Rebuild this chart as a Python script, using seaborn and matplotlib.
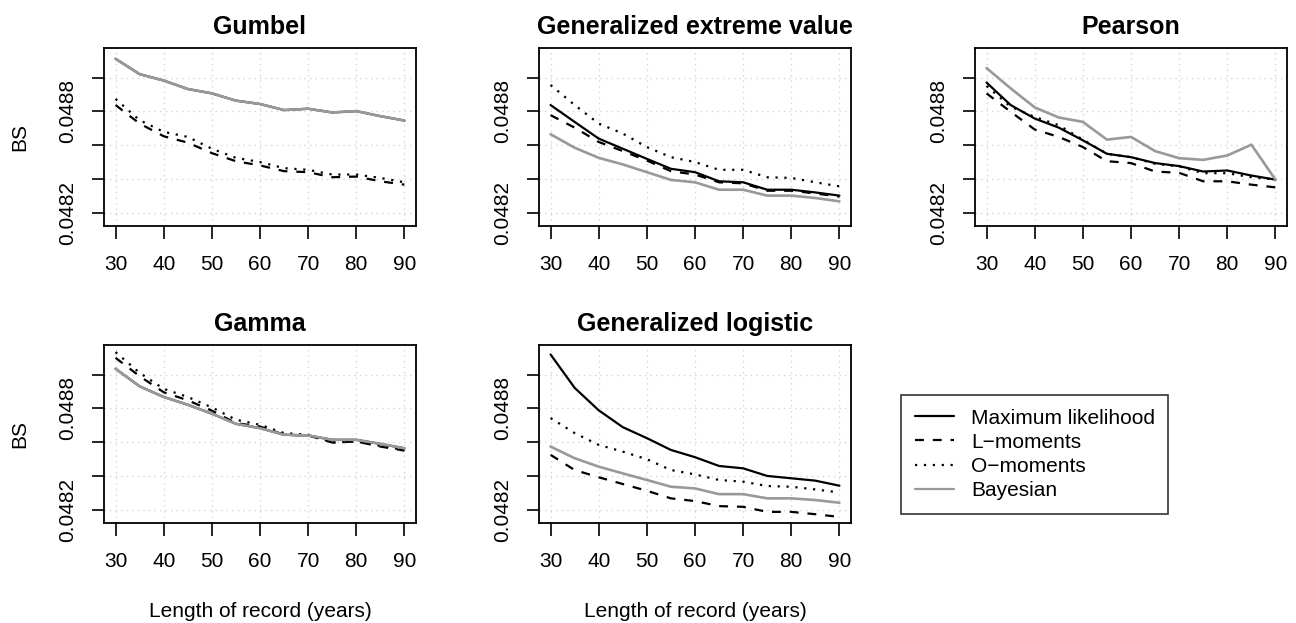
import pandas as pd
import seaborn as sns
import matplotlib.pyplot as plt
from matplotlib.lines import Line2D

# record lengths (years)
years = [30, 35, 40, 45, 50, 55, 60, 65, 70, 75, 80, 85, 90]

methods = ["Maximum likelihood", "L\u2212moments", "O\u2212moments", "Bayesian"]

# BS values, one list per distribution and method
# (for Gumbel and Gamma the ML curve sits under the grey Bayesian one)
gumbel_ml = [0.049111, 0.049020, 0.048982, 0.048932, 0.048906, 0.048863, 0.048843,
             0.048807, 0.048815, 0.048793, 0.048801, 0.048771, 0.048745]
gumbel_lm = [0.048837, 0.048727, 0.048652, 0.048614, 0.048552, 0.048504, 0.048479,
             0.048445, 0.048439, 0.048409, 0.048413, 0.048385, 0.048365]
gumbel_om = [0.048873, 0.048747, 0.048678, 0.048648, 0.048578, 0.048524, 0.048499,
             0.048463, 0.048453, 0.048425, 0.048425, 0.048405, 0.048379]
gumbel_bay = [0.049111, 0.049020, 0.048982, 0.048932, 0.048906, 0.048863, 0.048843,
              0.048807, 0.048815, 0.048793, 0.048801, 0.048771, 0.048745]

gev_ml = [0.048837, 0.048737, 0.048638, 0.048578, 0.048518, 0.048459, 0.048439,
          0.048385, 0.048379, 0.048335, 0.048335, 0.048319, 0.048300]
gev_lm = [0.048777, 0.048703, 0.048618, 0.048564, 0.048508, 0.048445, 0.048425,
          0.048379, 0.048373, 0.048329, 0.048329, 0.048313, 0.048294]
gev_om = [0.048956, 0.048837, 0.048727, 0.048668, 0.048588, 0.048528, 0.048499,
          0.048453, 0.048453, 0.048409, 0.048405, 0.048379, 0.048355]
gev_bay = [0.048664, 0.048584, 0.048524, 0.048485, 0.048439, 0.048393, 0.048379,
           0.048335, 0.048335, 0.048300, 0.048300, 0.048286, 0.048266]

pearson_ml = [0.048970, 0.048837, 0.048757, 0.048703, 0.048628, 0.048548, 0.048528,
              0.048493, 0.048475, 0.048443, 0.048449, 0.048419, 0.048395]
pearson_lm = [0.048906, 0.048797, 0.048692, 0.048648, 0.048588, 0.048504, 0.048493,
              0.048443, 0.048435, 0.048385, 0.048385, 0.048365, 0.048349]
pearson_om = [0.048950, 0.048827, 0.048767, 0.048717, 0.048632, 0.048548, 0.048528,
              0.048489, 0.048473, 0.048433, 0.048433, 0.048409, 0.048395]
pearson_bay = [0.049056, 0.048936, 0.048823, 0.048763, 0.048737, 0.048632, 0.048648,
               0.048564, 0.048522, 0.048512, 0.048538, 0.048602, 0.048395]

gamma_ml = [0.049034, 0.048930, 0.048867, 0.048821, 0.048768, 0.048708, 0.048682,
            0.048643, 0.048639, 0.048613, 0.048613, 0.048589, 0.048563]
gamma_lm = [0.049099, 0.048990, 0.048895, 0.048847, 0.048786, 0.048712, 0.048692,
            0.048643, 0.048639, 0.048597, 0.048603, 0.048573, 0.048549]
gamma_om = [0.049133, 0.049010, 0.048915, 0.048867, 0.048805, 0.048732, 0.048702,
            0.048653, 0.048643, 0.048597, 0.048603, 0.048577, 0.048553]
gamma_bay = [0.049034, 0.048930, 0.048867, 0.048821, 0.048768, 0.048708, 0.048682,
             0.048643, 0.048639, 0.048613, 0.048613, 0.048589, 0.048563]

glo_ml = [0.049119, 0.048921, 0.048788, 0.048688, 0.048623, 0.048553, 0.048510,
          0.048458, 0.048444, 0.048399, 0.048385, 0.048371, 0.048341]
glo_lm = [0.048524, 0.048434, 0.048391, 0.048351, 0.048311, 0.048266, 0.048250,
          0.048220, 0.048216, 0.048186, 0.048186, 0.048172, 0.048156]
glo_om = [0.048742, 0.048653, 0.048583, 0.048543, 0.048498, 0.048434, 0.048408,
          0.048375, 0.048365, 0.048339, 0.048335, 0.048319, 0.048301]
glo_bay = [0.048573, 0.048504, 0.048454, 0.048414, 0.048375, 0.048335, 0.048325,
           0.048291, 0.048291, 0.048266, 0.048266, 0.048256, 0.048240]

panels = [
    ("Gumbel", [gumbel_ml, gumbel_lm, gumbel_om, gumbel_bay]),
    ("Generalized extreme value", [gev_ml, gev_lm, gev_om, gev_bay]),
    ("Pearson", [pearson_ml, pearson_lm, pearson_om, pearson_bay]),
    ("Gamma", [gamma_ml, gamma_lm, gamma_om, gamma_bay]),
    ("Generalized logistic", [glo_ml, glo_lm, glo_om, glo_bay]),
]

x_ticks = [30, 40, 50, 60, 70, 80, 90]
y_ticks = [0.0482, 0.0484, 0.0486, 0.0488, 0.0490]
y_tick_labels = ["0.0482", "", "", "0.0488", ""]

palette = dict(zip(methods, ["black", "black", "black", "#999999"]))
dash_map = dict(zip(methods, ["", (4, 4), (1, 3), ""]))
# grey drawn last and a touch wider so it fully hides a coincident black curve
width_map = dict(zip(methods, [1.6, 1.6, 1.6, 1.9]))

sns.set_theme(style="white")
plt.rcParams["font.family"] = ["Liberation Sans", "DejaVu Sans"]
plt.rcParams["text.color"] = "black"
plt.rcParams["axes.labelcolor"] = "black"
plt.rcParams["axes.titlecolor"] = "black"

W, H = 1296, 623
fig = plt.figure(figsize=(W / 100, H / 100), dpi=100)

# axes boxes in pixels: left, top, right, bottom
boxes = [(104, 48, 416, 226), (539, 48, 851, 226), (975, 48, 1287, 226),
         (104, 345, 416, 523), (539, 345, 851, 523)]

for i, ((title, series), (l, t, r, b)) in enumerate(zip(panels, boxes)):
    ax = fig.add_axes([l / W, 1 - b / H, (r - l) / W, (b - t) / H])
    df = pd.DataFrame({
        "years": years * len(methods),
        "BS": [v for s in series for v in s],
        "method": [m for m in methods for _ in years],
    })
    sns.lineplot(data=df, x="years", y="BS", hue="method", style="method",
                 size="method", sizes=width_map,
                 palette=palette, dashes=dash_map,
                 legend=False, ax=ax)
    ax.set_xlim(27.6, 92.4)
    ax.set_ylim(0.04812, 0.049175)
    ax.set_xticks(x_ticks)
    ax.set_yticks(y_ticks)
    ax.set_yticklabels(y_tick_labels, rotation=90, va="center")
    ax.grid(True, color="lightgray", linestyle=(0, (1, 3)), linewidth=1.0)
    ax.tick_params(axis="both", direction="out", length=9, width=1.2,
                   labelsize=15, color="black", labelcolor="black",
                   bottom=True, left=True)
    ax.tick_params(axis="x", pad=12)
    ax.tick_params(axis="y", pad=10)
    for sp in ax.spines.values():
        sp.set_visible(True)
        sp.set_color("black")
        sp.set_linewidth(1.3)
    ax.set_title(title, fontsize=18, fontweight="bold", pad=10, color="black")
    ax.set_xlabel("Length of record (years)" if i >= 3 else "",
                  fontsize=15, labelpad=22)
    ax.set_ylabel("BS" if i in (0, 3) else "", fontsize=15, labelpad=21)

handles = [Line2D([0], [0], color=palette[m], linewidth=1.6,
                  linestyle=(0, dash_map[m]) if dash_map[m] else "-")
           for m in methods]
leg = fig.legend(handles, methods, loc="upper left",
                 bbox_to_anchor=(901 / W, 1 - 395 / H), borderaxespad=0,
                 fontsize=15, frameon=True, fancybox=False, edgecolor="black",
                 borderpad=0.65, labelspacing=0.25, handlelength=1.9,
                 handletextpad=0.8)
leg.get_frame().set_linewidth(1.2)
for txt in leg.get_texts():
    txt.set_color("black")

fig.savefig("out.png", dpi=100, facecolor="white")
